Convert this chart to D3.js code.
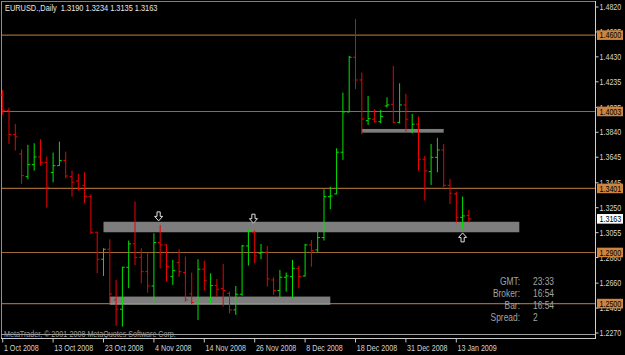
<!DOCTYPE html>
<html><head><meta charset="utf-8">
<script src="https://cdn.jsdelivr.net/npm/d3@7"></script>
<style>html,body{margin:0;padding:0;background:#000;overflow:hidden}text{font-family:"Liberation Sans",Arial,sans-serif;white-space:pre}</style>
</head><body><svg id="c" width="625" height="355"></svg>
<script>
const dates = ["2008-10-01","2008-10-02","2008-10-03","2008-10-06","2008-10-07","2008-10-08","2008-10-09","2008-10-10","2008-10-13","2008-10-14",
"2008-10-15","2008-10-16","2008-10-17","2008-10-20","2008-10-21","2008-10-22","2008-10-23","2008-10-24","2008-10-27","2008-10-28",
"2008-10-29","2008-10-30","2008-10-31","2008-11-03","2008-11-04","2008-11-05","2008-11-06","2008-11-07","2008-11-10","2008-11-11",
"2008-11-12","2008-11-13","2008-11-14","2008-11-17","2008-11-18","2008-11-19","2008-11-20","2008-11-21","2008-11-24","2008-11-25",
"2008-11-26","2008-11-27","2008-11-28","2008-12-01","2008-12-02","2008-12-03","2008-12-04","2008-12-05","2008-12-08","2008-12-09",
"2008-12-10","2008-12-11","2008-12-12","2008-12-15","2008-12-16","2008-12-17","2008-12-18","2008-12-19","2008-12-22","2008-12-23",
"2008-12-24","2008-12-26","2008-12-29","2008-12-30","2008-12-31","2009-01-02","2009-01-05","2009-01-06","2009-01-07","2009-01-08",
"2009-01-09","2009-01-12","2009-01-13","2009-01-14","2009-01-15"];
const open = [1.4132,1.4009,1.3822,1.3671,1.3493,1.3587,1.3647,1.3605,1.3525,1.3579,
1.3619,1.3493,1.3459,1.3425,1.3339,1.3058,1.2847,1.2925,1.2529,1.2456,
1.2784,1.2967,1.2862,1.2750,1.2638,1.2977,1.2959,1.2711,1.2821,1.2743,
1.2576,1.2503,1.2769,1.2529,1.2641,1.2617,1.2581,1.2451,1.2573,1.2951,
1.3058,1.2894,1.2902,1.2685,1.2602,1.2706,1.2711,1.2776,1.2716,1.2959,
1.2920,1.3016,1.3337,1.3358,1.3684,1.3999,1.4427,1.4249,1.3931,1.3942,
1.3923,1.4046,1.4059,1.3918,1.4054,1.3845,1.3903,1.3629,1.3532,1.3644,
1.3702,1.3425,1.3358,1.3175,1.3190];
const high = [1.4171,1.4033,1.3905,1.3707,1.3741,1.3754,1.3785,1.3650,1.3681,1.3767,
1.3689,1.3540,1.3514,1.3527,1.3355,1.3063,1.2933,1.3003,1.2685,1.2789,
1.2993,1.3298,1.2933,1.2899,1.3050,1.3115,1.2962,1.2842,1.2925,1.2868,
1.2743,1.2847,1.2836,1.2737,1.2693,1.2810,1.2594,1.2638,1.2959,1.3076,
1.3071,1.2967,1.2951,1.2706,1.2763,1.2743,1.2842,1.2795,1.2967,1.2998,
1.3063,1.3394,1.3415,1.3715,1.4150,1.4437,1.4726,1.4307,1.4124,1.4020,
1.4015,1.4114,1.4359,1.4223,1.4140,1.3983,1.3963,1.3655,1.3749,1.3796,
1.3749,1.3475,1.3376,1.3337,1.3234];
const low = [1.3976,1.3749,1.3697,1.3436,1.3472,1.3540,1.3579,1.3251,1.3449,1.3577,
1.3480,1.3337,1.3384,1.3285,1.3045,1.2737,1.2716,1.2503,1.2325,1.2320,
1.2620,1.2802,1.2659,1.2586,1.2516,1.2776,1.2672,1.2646,1.2711,1.2516,
1.2497,1.2372,1.2602,1.2503,1.2555,1.2477,1.2424,1.2411,1.2560,1.2797,
1.2816,1.2847,1.2633,1.2568,1.2550,1.2594,1.2542,1.2620,1.2712,1.2789,
1.2899,1.2993,1.3238,1.3355,1.3624,1.3996,1.4179,1.3824,1.3897,1.3916,
1.3910,1.4033,1.3910,1.3910,1.3845,1.3832,1.3540,1.3306,1.3428,1.3527,
1.3410,1.3280,1.3134,1.3084,1.3135];
const close = [1.4009,1.3824,1.3804,1.3501,1.3587,1.3647,1.3605,1.3410,1.3579,1.3619,
1.3498,1.3449,1.3397,1.3339,1.3058,1.2847,1.2925,1.2576,1.2456,1.2784,
1.2967,1.2862,1.2750,1.2638,1.2977,1.2959,1.2789,1.2758,1.2750,1.2529,
1.2508,1.2769,1.2680,1.2641,1.2612,1.2602,1.2451,1.2573,1.2951,1.3071,
1.2873,1.2902,1.2693,1.2602,1.2706,1.2716,1.2776,1.2711,1.2959,1.2915,
1.3016,1.3337,1.3342,1.3684,1.3999,1.4427,1.4249,1.3944,1.3947,1.3923,
1.3963,1.4054,1.3918,1.4054,1.3942,1.3903,1.3629,1.3538,1.3644,1.3702,
1.3425,1.3363,1.3175,1.3186,1.3163];
const tickDates = ["2008-10-01","2008-10-13","2008-10-23","2008-11-04","2008-11-14","2008-11-26","2008-12-08","2008-12-18","2008-12-31","2009-01-13"];
const tickLabels = ["1 Oct 2008","13 Oct 2008","23 Oct 2008","4 Nov 2008","14 Nov 2008","26 Nov 2008","8 Dec 2008","18 Dec 2008","31 Dec 2008","13 Jan 2009"];
const priceTicks = [1.4820,1.4625,1.4430,1.4235,1.4035,1.3840,1.3645,1.3445,1.3250,1.3055,1.2860,1.2660,1.2465,1.2270];
const levelPrices = [1.4600,1.4003,1.3401,1.2900,1.2500];
const zoneFrom = [16,17,57];
const zoneTo = [82,52,70];
const zoneTop = [1.3140,1.2555,1.3866];
const zoneBottom = [1.3058,1.2490,1.3837];
const arrowAt = [24.75,39.8,73];
const arrowPrice = [1.3147,1.3129,1.3053];
const arrowDir = ["down","down","up"];
const infoNames = ["GMT:","Broker:","Bar:","Spread:"];
const infoValues = ["23:33","16:54","16:54","2"];
const symbolTitle = "EURUSD.,Daily";
const copyright = "MetaTrader, \u00a9 2001-2008 MetaQuotes Software Corp.";

const svg = d3.select("#c");
svg.append("rect").attr("width",625).attr("height",355).attr("fill","#000");
const x = d3.scaleLinear().domain([0,94]).range([2.7,2.7+6.3*94]);
const y = d3.scaleLinear().domain([1.2270,1.4820]).range([333,7]);
const idx = d => dates.indexOf(d);
const SX = 0.83;
function txt(g, px, py, s, size, fill, anchor, sx){
  return g.append("text").attr("transform",`translate(${px},${py}) scale(${sx||SX},1)`)
   .attr("font-size",size).attr("fill",fill).attr("text-anchor",anchor||"start").text(s);
}

// frame
const fr = svg.append("g");
fr.append("line").attr("x1",1).attr("x2",595).attr("y1",1.5).attr("y2",1.5).attr("stroke","#808080");
fr.append("line").attr("x1",1.5).attr("x2",1.5).attr("y1",1).attr("y2",338).attr("stroke","#909090");

// level lines
const lv = svg.append("g");
levelPrices.forEach(p=>{
  lv.append("line").attr("x1",2).attr("x2",595).attr("y1",y(p)).attr("y2",y(p))
    .attr("stroke","#b8793a").attr("stroke-width",1.1).attr("stroke-opacity",0.85);
});

// zones
const zg = svg.append("g");
zoneFrom.forEach((f,i)=>{
  zg.append("rect").attr("x",x(f)).attr("width",x(zoneTo[i])-x(f))
    .attr("y",y(zoneTop[i])).attr("height",y(zoneBottom[i])-y(zoneTop[i])).attr("fill","#7d7d7d");
});
// level line seen through lower zone
zg.append("line").attr("x1",x(zoneFrom[1])).attr("x2",x(zoneTo[1])).attr("y1",y(levelPrices[4])).attr("y2",y(levelPrices[4]))
  .attr("stroke","#6fae5f").attr("stroke-width",1);

// bars
const bg = svg.append("g");
dates.forEach((d,i)=>{
  const c = close[i] >= open[i] ? "#00e400" : "#f00000";
  const xi = x(i);
  bg.append("line").attr("x1",xi).attr("x2",xi).attr("y1",y(high[i])).attr("y2",y(low[i])).attr("stroke",c);
  bg.append("line").attr("x1",xi-2.3).attr("x2",xi).attr("y1",y(open[i])).attr("y2",y(open[i])).attr("stroke",c);
  bg.append("line").attr("x1",xi).attr("x2",xi+2.3).attr("y1",y(close[i])).attr("y2",y(close[i])).attr("stroke",c);
});

// arrows
const ag = svg.append("g");
arrowAt.forEach((a,i)=>{
  const px = x(a), py = y(arrowPrice[i]);
  const s = arrowDir[i]==="down" ? 1 : -1;
  const pts = [[-1.6,-9],[1.6,-9],[1.6,-4.5],[4,-4.5],[0,0],[-4,-4.5],[-1.6,-4.5]].map(p=>[px+p[0],py+s*p[1]]);
  ag.append("path").attr("d","M"+pts.map(p=>p.join(",")).join("L")+"Z")
    .attr("fill","#000").attr("stroke","#e0e0e0").attr("stroke-width",1);
});

// title
txt(svg,5,10.5,symbolTitle+"  "+[open,high,low,close].map(a=>a[a.length-1].toFixed(4)).join(" "),8.6,"#e6e6e6","start",0.86);

// info block
infoNames.forEach((n,i)=>{
  txt(svg,520,285+i*12,n,10.5,"#a4a4a4","end",0.8);
  txt(svg,533,285+i*12,infoValues[i],10.5,"#a4a4a4","start",0.8);
});

// bottom lines + copyright
txt(svg,4,336.5,copyright,8.6,"#9a9a9a","start",0.83);
svg.append("line").attr("x1",1).attr("x2",595).attr("y1",334.5).attr("y2",334.5).attr("stroke","#a0a0a0");
svg.append("line").attr("x1",1).attr("x2",595).attr("y1",338.5).attr("y2",338.5).attr("stroke","#c8c8c8");

// x axis ticks
const xg = svg.append("g");
tickDates.forEach((d,i)=>{
  const xi = x(idx(d));
  xg.append("line").attr("x1",xi).attr("x2",xi).attr("y1",338.5).attr("y2",342.5).attr("stroke","#c8c8c8");
  txt(xg,xi+1.2,350.5,tickLabels[i],8.6,"#d4d4d4","start");
});

// right axis
const rg = svg.append("g");
rg.append("line").attr("x1",595.5).attr("x2",595.5).attr("y1",1).attr("y2",339).attr("stroke","#d0d0d0");
priceTicks.forEach(p=>{
  rg.append("line").attr("x1",595.5).attr("x2",598.5).attr("y1",y(p)).attr("y2",y(p)).attr("stroke","#d0d0d0");
  txt(rg,599.5,y(p)+3.2,p.toFixed(4),8.6,"#d4d4d4","start");
});
levelPrices.forEach(p=>{
  rg.append("rect").attr("x",597).attr("y",y(p)-4.8).attr("width",26).attr("height",9.6).attr("fill","#cd853f");
  txt(rg,599.5,y(p)+3.2,p.toFixed(4),8.6,"#000","start");
});
const last = close[close.length-1];
rg.append("rect").attr("x",597).attr("y",y(last)-4.8).attr("width",26).attr("height",9.6).attr("fill","#fff");
txt(rg,599.5,y(last)+3.2,last.toFixed(4),8.6,"#000","start");
</script></body></html>
